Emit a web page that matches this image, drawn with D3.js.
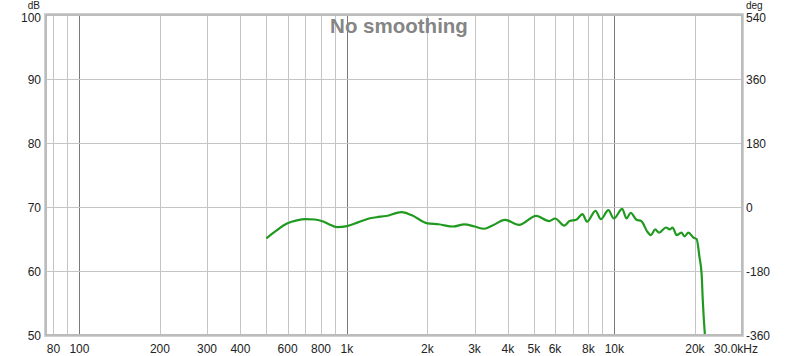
<!DOCTYPE html>
<html><head><meta charset="utf-8">
<script src="https://cdn.jsdelivr.net/npm/d3@7"></script>
<style>body{margin:0;background:#fff}svg{display:block}</style>
</head><body>
<svg id="c" width="800" height="356"></svg>
<script>
const freqs = [500,540,600,650,700,760,820,870,920,1000,1100,1210,1290,1400,1600,1750,2000,2200,2500,2750,3000,3260,3500,3900,4400,5100,5700,6000,6500,6800,7200,7600,7900,8500,8900,9500,9950,10700,11100,11500,12100,12600,13300,13700,14200,14700,15600,16100,16500,17100,17800,18300,18900,19800,20300,20800,21200,21400,21800,22000];
const spl   = [65.1,66.2,67.45,67.9,68.1,68.05,67.7,67.2,66.85,67.0,67.6,68.2,68.4,68.6,69.2,68.7,67.45,67.3,66.95,67.3,66.95,66.6,67.1,68.0,67.2,68.6,67.8,68.2,67.1,67.8,68.0,68.9,67.7,69.4,68.1,69.5,68.2,69.7,68.2,69.1,68.0,67.8,66.1,65.6,66.5,66.0,66.8,66.5,66.8,65.6,66.0,65.4,66.0,65.2,65.0,62.2,59.4,55.5,50,48];
const xTicks = [80,100,200,300,400,600,800,1000,2000,3000,4000,5000,6000,8000,10000,20000];
const xTickLabels = ["80","100","200","300","400","600","800","1k","2k","3k","4k","5k","6k","8k","10k","20k"];
const xGrid = [80,90,100,200,300,400,500,600,700,800,900,1000,2000,3000,4000,5000,6000,7000,8000,9000,10000,20000];
const decades = [100,1000,10000];
const dbTicks = [50,60,70,80,90,100];
const degTicks = [-360,-180,0,180,360,540];

const W=800,H=356,m={l:46,t:15,r:58,b:21};
const svg=d3.select("#c");
const x=d3.scaleLog().domain([75,30000]).range([m.l,W-m.r]);
const y=d3.scaleLinear().domain([50,100]).range([H-m.b,m.t]);
const y2=d3.scaleLinear().domain([-360,540]).range([H-m.b,m.t]);
const font="'Liberation Sans', Arial, sans-serif";

// grid
svg.append("g").selectAll("line").data(xGrid).join("line")
  .attr("x1",d=>Math.round(x(d))+0.5).attr("x2",d=>Math.round(x(d))+0.5)
  .attr("y1",m.t).attr("y2",H-m.b)
  .attr("stroke",d=>decades.includes(d)?"#7a7a7a":"#c4c4c4").attr("stroke-width",1);
svg.append("g").selectAll("line").data(dbTicks).join("line")
  .attr("x1",m.l).attr("x2",W-m.r)
  .attr("y1",d=>Math.round(y(d))+0.5).attr("y2",d=>Math.round(y(d))+0.5)
  .attr("stroke","#c4c4c4");

// title
svg.append("text").attr("x",399).attr("y",33).attr("text-anchor","middle")
  .attr("font-family",font).attr("font-weight","bold").attr("font-size",20.5)
  .attr("fill","#858585").text("No smoothing");

// curve
svg.append("clipPath").attr("id","clp").append("rect")
  .attr("x",m.l).attr("y",m.t).attr("width",W-m.l-m.r).attr("height",H-m.t-m.b);
const line=d3.line().x((d,i)=>x(freqs[i])).y(d=>y(d)).curve(d3.curveMonotoneX);
svg.append("path").datum(spl).attr("d",line).attr("fill","none")
  .attr("stroke","#1f9a1f").attr("stroke-width",2.2).attr("clip-path","url(#clp)");

// frame
svg.append("rect").attr("x",m.l-0.5).attr("y",m.t-0.5).attr("width",W-m.l-m.r+1).attr("height",H-m.t-m.b+1)
  .attr("fill","none").attr("stroke","#d0d0d0").attr("stroke-width",3);
svg.append("rect").attr("x",m.l).attr("y",m.t).attr("width",W-m.l-m.r).attr("height",H-m.t-m.b)
  .attr("fill","none").attr("stroke","#a8a8a8").attr("stroke-width",1);

// axes labels
const lab=svg.append("g").attr("font-family",font).attr("font-size",12).attr("fill","#222");
lab.selectAll(".l").data(dbTicks).join("text").attr("x",41).attr("y",d=>d===100?22.3:y(d)+4.5)
  .attr("text-anchor","end").text(d=>d);
lab.selectAll(".r").data(degTicks).join("text").attr("x",746).attr("y",d=>d===540?22.3:y2(d)+4.5)
  .attr("text-anchor","start").text(d=>d);
lab.append("text").attr("x",40).attr("y",9.2).attr("font-size",10).attr("text-anchor","end").text("dB");
lab.append("text").attr("x",746).attr("y",9.2).attr("font-size",10).attr("text-anchor","start").text("deg");
lab.selectAll(".b").data(xTicks).join("text").attr("x",d=>x(d)).attr("y",353)
  .attr("text-anchor","middle").text((d,i)=>xTickLabels[i]);
lab.append("text").attr("x",x(30000)-6).attr("y",353).attr("text-anchor","middle").text("30.0kHz");
</script>
</body></html>
